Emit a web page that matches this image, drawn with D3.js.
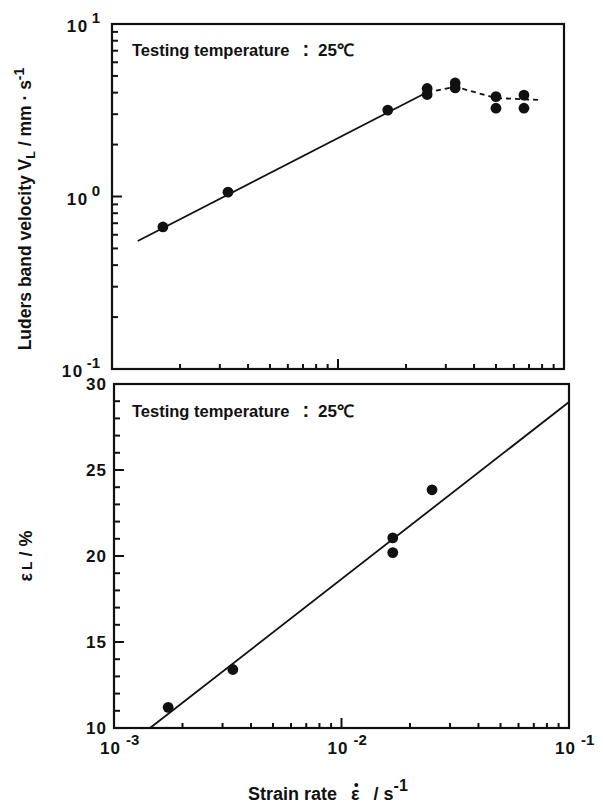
<!DOCTYPE html>
<html>
<head>
<meta charset="utf-8">
<script src="https://cdn.jsdelivr.net/npm/d3@7"></script>
<style>
  body { margin: 0; background: #fff; }
  svg { display: block; }
  text { font-family: "Liberation Sans", Arial, sans-serif; font-weight: bold; fill: #111; }
</style>
</head>
<body>
<div id="chart"></div>
<script>
// Upper panel: Luders band velocity vs strain rate
const velRate = [0.00168, 0.00326, 0.0166, 0.0248, 0.0248, 0.033, 0.033, 0.050, 0.050, 0.0665, 0.0665]
const velValue = [0.666, 1.06, 3.17, 4.23, 3.90, 4.55, 4.26, 3.79, 3.25, 3.87, 3.25]
const velFitRate = [0.0013, 0.0248]
const velFitValue = [0.552, 4.02]
const velDashRate = [0.0248, 0.033, 0.050, 0.0774]
const velDashValue = [4.02, 4.33, 3.72, 3.63]

// Lower panel: Luders strain vs strain rate
const strRate = [0.00173, 0.00333, 0.0168, 0.0168, 0.025]
const strValue = [11.2, 13.4, 21.05, 20.2, 23.85]
const strFitRate = [0.00144, 0.1]
const strFitValue = [10, 28.95]

const xDecades = [-3, -2, -1]
const velDecades = [1, 0, -1]
const strTicks = [10, 15, 20, 25, 30]

const width = 603
const height = 810

const svg = d3.select("#chart")
    .append("svg")
    .attr("width", width)
    .attr("height", height)

svg.append("rect").attr("width", width).attr("height", height).attr("fill", "#fff")

// 1..9 x 10^e between 10^lo and 10^hi
function logTicks(lo, hi) {
    let t = []
    for (let e = lo; e < hi; e++) {
        for (let m = 1; m < 10; m++) t.push(m * Math.pow(10, e))
    }
    t.push(Math.pow(10, hi))
    return t
}
function isMajor(v) {
    let l = Math.log10(v)
    return Math.abs(l - Math.round(l)) < 1e-9
}

function drawFrame(g, box) {
    g.append("rect")
     .attr("x", box.left).attr("y", box.top)
     .attr("width", box.right - box.left).attr("height", box.bottom - box.top)
     .attr("fill", "none").attr("stroke", "#111").attr("stroke-width", 2.2)
}

// inward ticks on the bottom edge
function xTicks(g, x, box) {
    g.selectAll(null)
     .data(logTicks(-3, -1))
     .enter()
     .append("line")
     .attr("x1", d => x(d)).attr("x2", d => x(d))
     .attr("y1", box.bottom)
     .attr("y2", d => box.bottom - (isMajor(d) ? 10 : 5))
     .attr("stroke", "#111").attr("stroke-width", 2)
}

// inward ticks on the left edge
function yTicks(g, y, box, values, major) {
    g.selectAll(null)
     .data(values)
     .enter()
     .append("line")
     .attr("y1", d => y(d)).attr("y2", d => y(d))
     .attr("x1", box.left - 1)
     .attr("x2", d => box.left + (major(d) ? 10 : 6))
     .attr("stroke", "#111").attr("stroke-width", 2)
}

function markers(g, x, y, xs, ys) {
    g.selectAll(null)
     .data(xs.map((d, i) => [d, ys[i]]))
     .enter()
     .append("circle")
     .attr("cx", d => x(d[0]))
     .attr("cy", d => y(d[1]))
     .attr("r", 5.4)
     .attr("fill", "#111")
}

function fitLine(g, x, y, xs, ys, dash) {
    const line = d3.line().x(d => x(d[0])).y(d => y(d[1]))
    g.append("path")
     .attr("d", line(xs.map((d, i) => [d, ys[i]])))
     .attr("fill", "none")
     .attr("stroke", "#111")
     .attr("stroke-width", 1.8)
     .attr("stroke-dasharray", dash ? "5,4" : null)
}

function tempLabel(g, x, y) {
    let t = g.append("text").attr("x", x).attr("y", y).attr("font-size", 16.5)
    t.append("tspan").text("Testing temperature")
    t.append("tspan").attr("dx", 13).attr("font-size", 20).text(":")
    t.append("tspan").attr("dx", 9).attr("font-size", 17).text("25℃")
}

/*** Upper panel ***/
const boxTop = {left: 112, right: 564, top: 24, bottom: 369}
const xTop = d3.scaleLog().domain([1e-3, 1e-1]).range([boxTop.left, boxTop.right])
const yTop = d3.scaleLog().domain([1e-1, 1e1]).range([boxTop.bottom, boxTop.top])
const gTop = svg.append("g")

xTicks(gTop, xTop, boxTop)
yTicks(gTop, yTop, boxTop, logTicks(-1, 1), isMajor)
drawFrame(gTop, boxTop)

// y tick labels 10^n
velDecades.forEach(e => {
    let t = gTop.append("text")
        .attr("x", boxTop.left - 12)
        .attr("y", yTop(Math.pow(10, e)) + 8)
        .attr("text-anchor", "end")
        .attr("font-size", 17)
    t.append("tspan").attr("letter-spacing", 1.5).text("10")
    t.append("tspan").attr("dx", 3).attr("dy", -9).attr("font-size", 15).text(e)
})

fitLine(gTop, xTop, yTop, velFitRate, velFitValue, false)
fitLine(gTop, xTop, yTop, velDashRate, velDashValue, true)
markers(gTop, xTop, yTop, velRate, velValue)

tempLabel(gTop, 132, 56)

// y title
let yt = gTop.append("text")
    .attr("transform", `translate(31,${209}) rotate(-90)`)
    .attr("text-anchor", "middle")
    .attr("font-size", 17.5)
yt.append("tspan").text("Luders band velocity V")
yt.append("tspan").attr("font-size", 12.5).attr("dy", 4).text("L")
yt.append("tspan").attr("dy", -4).text(" / mm · s")
yt.append("tspan").attr("font-size", 14).attr("dy", -7).text("-1")

/*** Lower panel ***/
const boxBot = {left: 114, right: 569, top: 384, bottom: 728}
const xBot = d3.scaleLog().domain([1e-3, 1e-1]).range([boxBot.left, boxBot.right])
const yBot = d3.scaleLinear().domain([10, 30]).range([boxBot.bottom, boxBot.top])
const gBot = svg.append("g")

xTicks(gBot, xBot, boxBot)
yTicks(gBot, yBot, boxBot, d3.range(10, 31, 1), d => d % 5 == 0)
drawFrame(gBot, boxBot)

gBot.selectAll(null)
    .data(strTicks)
    .enter()
    .append("text")
    .attr("x", boxBot.left - 7)
    .attr("y", d => yBot(d) + 6)
    .attr("text-anchor", "end")
    .attr("font-size", 17)
    .attr("letter-spacing", 1)
    .text(d => d)

// x tick labels 10^n
xDecades.forEach(e => {
    let t = gBot.append("text")
        .attr("x", xBot(Math.pow(10, e)) - 14)
        .attr("y", boxBot.bottom + 26)
        .attr("font-size", 17)
    t.append("tspan").attr("letter-spacing", 1).text("10")
    t.append("tspan").attr("dx", 5).attr("dy", -9).attr("font-size", 15).text(e)
})

fitLine(gBot, xBot, yBot, strFitRate, strFitValue, false)
markers(gBot, xBot, yBot, strRate, strValue)

tempLabel(gBot, 132, 417)

// y title
let yb = gBot.append("text")
    .attr("transform", `translate(32,${556}) rotate(-90)`)
    .attr("text-anchor", "middle")
    .attr("font-size", 18)
yb.append("tspan").text("ε")
yb.append("tspan").attr("font-size", 14).attr("dx", 3).text("L")
yb.append("tspan").text(" / %")

// x title
let xt = svg.append("text")
    .attr("x", 248).attr("y", 800)
    .attr("font-size", 18)
xt.append("tspan").text("Strain rate")
xt.append("tspan").attr("id", "eps").attr("dx", 14).text("ε")
xt.append("tspan").attr("dx", 14).text("/ s")
xt.append("tspan").attr("font-size", 16).attr("dy", -9).text("-1")

// dot above epsilon
let epsBox = document.getElementById("eps").getExtentOfChar(0)
svg.append("circle")
   .attr("cx", epsBox.x + epsBox.width / 2 + 1)
   .attr("cy", epsBox.y + 1)
   .attr("r", 2)
   .attr("fill", "#111")
</script>
</body>
</html>
